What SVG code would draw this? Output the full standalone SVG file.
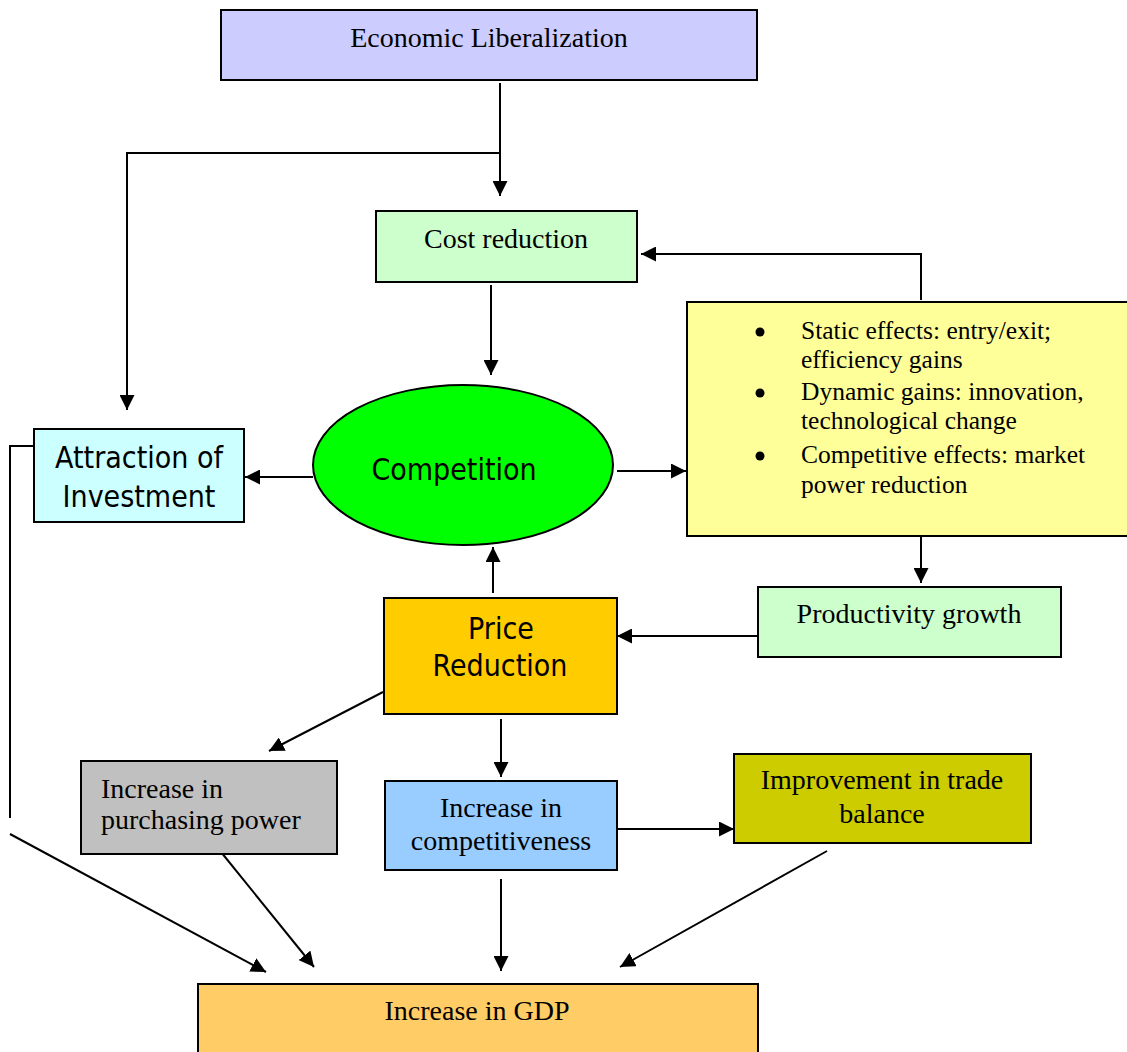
<svg xmlns="http://www.w3.org/2000/svg" width="1127" height="1052" viewBox="0 0 1127 1052">
<style>
.box{stroke:#000;stroke-width:2}
.serif{font-family:"Liberation Serif","Times New Roman",serif;font-size:28px;fill:#000}
.bul{font-family:"Liberation Serif","Times New Roman",serif;font-size:25.5px;fill:#000}
.sans{font-family:"DejaVu Sans Condensed","DejaVu Sans",sans-serif;font-stretch:condensed;font-size:30px;fill:#000}
.c{text-anchor:middle}
.ln{fill:none;stroke:#000;stroke-width:2}
</style>
<defs>
<marker id="ah" markerUnits="userSpaceOnUse" markerWidth="15" markerHeight="15" refX="15" refY="7.5" orient="auto">
<path d="M0,0 L15,7.5 L0,15 z" fill="#000"/>
</marker>
</defs>
<rect width="1127" height="1052" fill="#fff"/>
<g id="connectors">
<path class="ln" d="M500,83 V196" marker-end="url(#ah)"/>
<path class="ln" d="M500,153 H127 V410" marker-end="url(#ah)"/>
<path class="ln" d="M491,285 V375" marker-end="url(#ah)"/>
<path class="ln" d="M921,300 V254 H641" marker-end="url(#ah)"/>
<path class="ln" d="M617,471 H686" marker-end="url(#ah)"/>
<path class="ln" d="M313,477 H245" marker-end="url(#ah)"/>
<path class="ln" d="M921,537 V583" marker-end="url(#ah)"/>
<path class="ln" d="M757,636 H617" marker-end="url(#ah)"/>
<path class="ln" d="M493,593 V547" marker-end="url(#ah)"/>
<path class="ln" d="M383,692 L269,751" marker-end="url(#ah)"/>
<path class="ln" d="M501,719 V777" marker-end="url(#ah)"/>
<path class="ln" d="M617,829 H734" marker-end="url(#ah)"/>
<path class="ln" d="M33,446 H10 V818"/>
<path class="ln" d="M10,834 L266,972" marker-end="url(#ah)"/>
<path class="ln" d="M221,852 L314,967" marker-end="url(#ah)"/>
<path class="ln" d="M501,879 V971" marker-end="url(#ah)"/>
<path class="ln" d="M827,851 L620,967" marker-end="url(#ah)"/>
</g>
<g id="economic-liberalization">
<rect class="box" x="221" y="10" width="536" height="70" fill="#CCCCFF"/>
<text class="serif c" x="489" y="47">Economic Liberalization</text>
</g>
<g id="cost-reduction">
<rect class="box" x="376" y="211" width="261" height="71" fill="#CCFFCC"/>
<text class="serif c" x="506" y="248">Cost reduction</text>
</g>
<g id="effects">
<rect class="box" x="687" y="302" width="445" height="234" fill="#FFFF99"/>
<circle cx="760" cy="332" r="4.5" fill="#000"/>
<circle cx="760" cy="393" r="4.5" fill="#000"/>
<circle cx="760" cy="456" r="4.5" fill="#000"/>
<text class="bul" x="801" y="339">Static effects: entry/exit;</text>
<text class="bul" x="801" y="368">efficiency gains</text>
<text class="bul" x="801" y="400">Dynamic gains: innovation,</text>
<text class="bul" x="801" y="429">technological change</text>
<text class="bul" x="801" y="463">Competitive effects: market</text>
<text class="bul" x="801" y="493">power reduction</text>
</g>
<g id="competition">
<ellipse class="box" cx="463" cy="465" rx="150" ry="80" fill="#00FF00"/>
<text class="sans c" x="454" y="480">Competition</text>
</g>
<g id="attraction-of-investment">
<rect class="box" x="34" y="429" width="210" height="93" fill="#CCFFFF"/>
<text class="sans c" x="139" y="468">Attraction of</text>
<text class="sans c" x="139" y="507">Investment</text>
</g>
<g id="productivity-growth">
<rect class="box" x="758" y="587" width="303" height="70" fill="#CCFFCC"/>
<text class="serif c" x="909" y="623">Productivity growth</text>
</g>
<g id="price-reduction">
<rect class="box" x="384" y="598" width="233" height="116" fill="#FFCC00"/>
<text class="sans c" x="501" y="639">Price</text>
<text class="sans c" x="500" y="676">Reduction</text>
</g>
<g id="purchasing-power">
<rect class="box" x="81" y="761" width="256" height="93" fill="#C0C0C0"/>
<text class="serif" x="101" y="798">Increase in</text>
<text class="serif" x="101" y="829">purchasing power</text>
</g>
<g id="competitiveness">
<rect class="box" x="385" y="781" width="232" height="89" fill="#99CCFF"/>
<text class="serif c" x="501" y="817">Increase in</text>
<text class="serif c" x="501" y="850">competitiveness</text>
</g>
<g id="trade-balance">
<rect class="box" x="734" y="754" width="297" height="89" fill="#CCCC00"/>
<text class="serif c" x="882" y="789">Improvement in trade</text>
<text class="serif c" x="882" y="823">balance</text>
</g>
<g id="gdp">
<rect class="box" x="198" y="984" width="560" height="80" fill="#FFCC66"/>
<text class="serif c" x="477" y="1020">Increase in GDP</text>
</g>
</svg>
